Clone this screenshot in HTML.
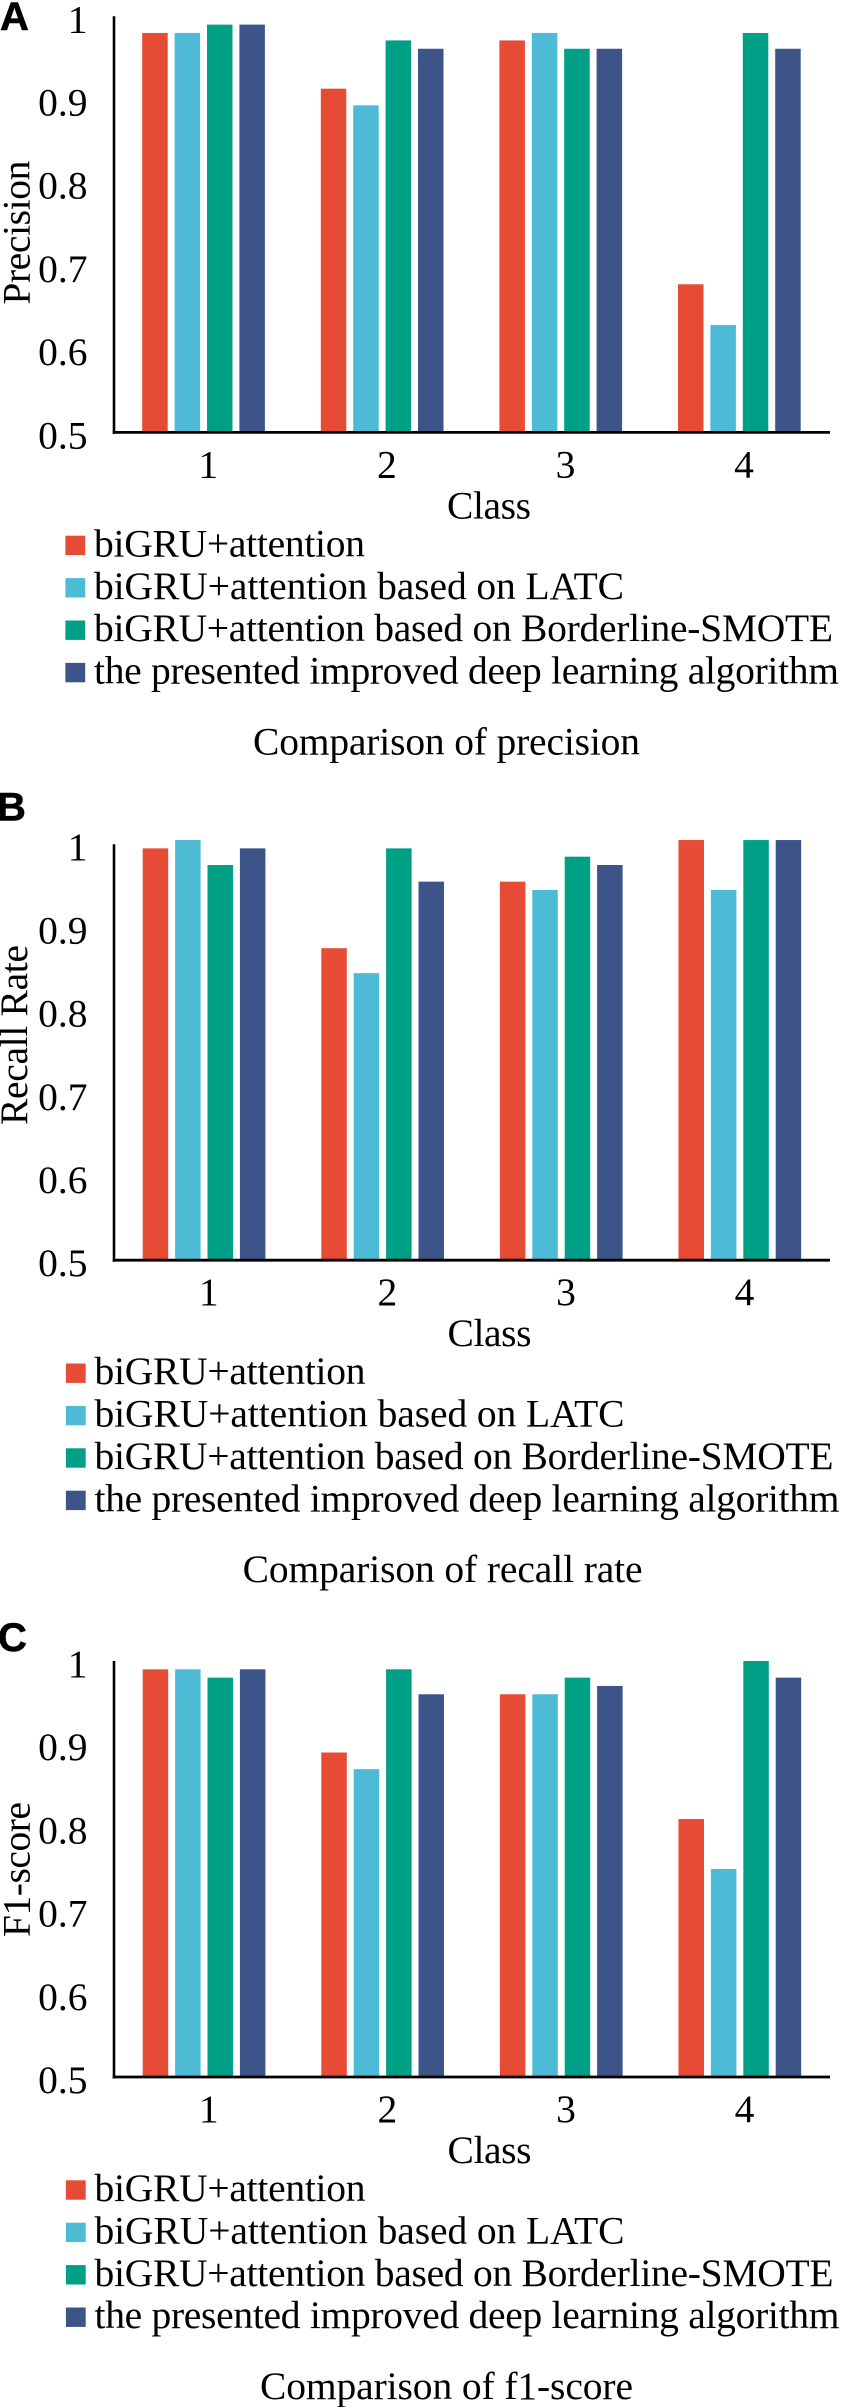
<!DOCTYPE html>
<html lang="en">
<head>
<meta charset="utf-8">
<title>Comparison of precision, recall rate and f1-score</title>
<style>
html,body{margin:0;padding:0;background:#fff;}
svg{display:block;}
text{font-family:"Liberation Serif",serif;fill:#000;}
.letter{font-family:"Liberation Sans",sans-serif;font-weight:bold;font-size:40px;stroke:#000;stroke-width:0.6px;}
</style>
</head>
<body>
<svg id="figure" xmlns="http://www.w3.org/2000/svg" width="841" height="2407" viewBox="0 0 841 2407"></svg>
<script>
const categories = ['1', '2', '3', '4'];
const yTickValues = [0.5, 0.6, 0.7, 0.8, 0.9, 1];
const yTickLabels = ['0.5', '0.6', '0.7', '0.8', '0.9', '1'];
const seriesNames = [
  'biGRU+attention',
  'biGRU+attention based on LATC',
  'biGRU+attention based on Borderline-SMOTE',
  'the presented improved deep learning algorithm'
];
const seriesColors = ['#E64B35', '#4DBBD5', '#00A087', '#3C5488'];

const precisionBiGRU = [0.98, 0.913, 0.971, 0.678];
const precisionLATC = [0.98, 0.893, 0.98, 0.629];
const precisionSMOTE = [0.99, 0.971, 0.961, 0.98];
const precisionImproved = [0.99, 0.961, 0.961, 0.961];

const recallBiGRU = [0.995, 0.875, 0.955, 1.005];
const recallLATC = [1.005, 0.845, 0.945, 0.945];
const recallSMOTE = [0.975, 0.995, 0.985, 1.005];
const recallImproved = [0.995, 0.955, 0.975, 1.005];

const f1BiGRU = [0.99, 0.89, 0.96, 0.81];
const f1LATC = [0.99, 0.87, 0.96, 0.75];
const f1SMOTE = [0.98, 0.99, 0.98, 1.0];
const f1Improved = [0.99, 0.96, 0.97, 0.98];

const svg = document.getElementById('figure');
const NS = 'http://www.w3.org/2000/svg';

function make(tag, attrs, parent, content) {
  const el = document.createElementNS(NS, tag);
  for (const k in attrs) el.setAttribute(k, attrs[k]);
  if (content !== undefined) el.textContent = content;
  parent.appendChild(el);
  return el;
}

const legendWidths = [271, 530, 739, 745];
const axisLeft = 114;
const axisRight = 830;
const catStep = 178.6;
const barStep = 32.4;
const barWidth = 25.5;
const fontSize = 39.5;

function xCategory(k) { return 142.2 + catStep * k; }
function xBar(k, s) { return xCategory(k) + barStep * s; }
function xCategoryCenter(k) { return xCategory(k) + (barStep * 3 + barWidth) / 2; }

function drawPanel(p) {
  const g = make('g', {}, svg);
  
  

  const yScale = function (v) { return p.y0 - (v - 0.5) / 0.5 * (p.y0 - p.yTop); };

  const letter = make('text', { class: 'letter', x: p.letterX, y: p.letterY }, g, p.letter);
  
  

  p.series.forEach(function (values, s) {
    values.forEach(function (v, k) {
      const top = yScale(v);
      const bar = make('rect', { x: xBar(k, s) + p.dx, y: top, width: barWidth, height: p.y0 - top, fill: seriesColors[s] }, g);
      
      
    });
  });

  const yAxis = make('line', { x1: axisLeft, x2: axisLeft, y1: p.yTop, y2: p.y0 + 1.5, stroke: '#000', 'stroke-width': 2.6 }, g);
  
  

  const xAxis = make('line', { x1: axisLeft - 1.3, x2: axisRight, y1: p.y0, y2: p.y0, stroke: '#000', 'stroke-width': 2.8 }, g);
  
  

  yTickValues.forEach(function (v, i) {
    const t = make('text', { x: 87.5, y: yScale(v) + 16, 'text-anchor': 'end', 'font-size': fontSize }, g, yTickLabels[i]);
    
    
  });

  categories.forEach(function (c, k) {
    const t = make('text', { x: xCategoryCenter(k) + 4.7 + p.dx, y: p.y0 + 45, 'text-anchor': 'middle', 'font-size': fontSize }, g, c);
    
    
  });

  const xTitle = make('text', { x: 447 + p.dx, y: p.y0 + 86, 'font-size': fontSize, textLength: 84, lengthAdjust: 'spacing' }, g, 'Class');
  
  

  const yTitle = make('text', {
    x: 0, y: 0, 'font-size': fontSize, 'text-anchor': 'start',
    textLength: p.yTitleLen, lengthAdjust: 'spacing',
    transform: 'translate(' + p.yTitleX + ',' + p.yTitleStart + ') rotate(-90)'
  }, g, p.yTitle);
  
  

  seriesNames.forEach(function (name, s) {
    const rowY = p.y0 + 103.3 + 42.4 * s;
    const swatch = make('rect', { x: 65.4 + p.dx, y: rowY, width: 19.8, height: 19.4, fill: seriesColors[s] }, g);
    
    
    const label = make('text', { x: 94 + p.dx, y: rowY + 20.7, 'font-size': fontSize, textLength: legendWidths[s], lengthAdjust: 'spacing' }, g, name);
    
    
  });

  const caption = make('text', { x: p.captionX, y: p.y0 + 322, 'font-size': fontSize, textLength: p.captionLen, lengthAdjust: 'spacing' }, g, p.caption);
  
  
}

drawPanel({
  key: 'precision', letter: 'A', letterX: 0, letterY: 30, y0: 432.4, yTop: 16.3, dx: 0,
  series: [precisionBiGRU, precisionLATC, precisionSMOTE, precisionImproved],
  yTitle: 'Precision', yTitleX: 29.5, yTitleStart: 304.6, yTitleLen: 144,
  caption: 'Comparison of precision', captionX: 253, captionLen: 387
});
drawPanel({
  key: 'recall-rate', letter: 'B', letterX: -3, letterY: 820.7, y0: 1260.2, yTop: 844.2, dx: 0.5,
  series: [recallBiGRU, recallLATC, recallSMOTE, recallImproved],
  yTitle: 'Recall Rate', yTitleX: 27, yTitleStart: 1125, yTitleLen: 180,
  caption: 'Comparison of recall rate', captionX: 242.6, captionLen: 400
});
drawPanel({
  key: 'f1-score', letter: 'C', letterX: -2, letterY: 1651, y0: 2077, yTop: 1661, dx: 0.5,
  series: [f1BiGRU, f1LATC, f1SMOTE, f1Improved],
  yTitle: 'F1-score', yTitleX: 29.5, yTitleStart: 1937, yTitleLen: 135,
  caption: 'Comparison of f1-score', captionX: 260, captionLen: 373
});
</script>
</body>
</html>
